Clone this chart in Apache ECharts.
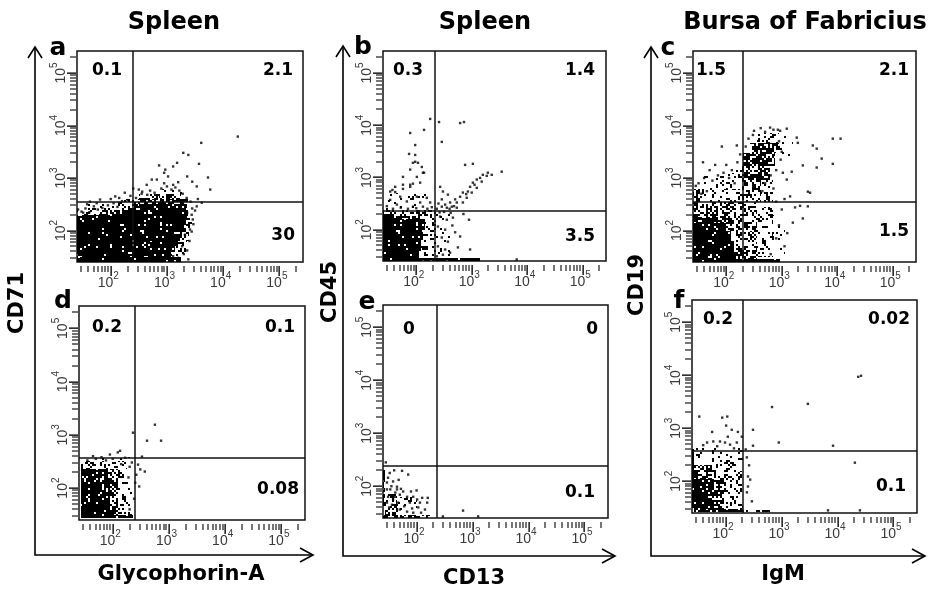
<!DOCTYPE html>
<html><head><meta charset="utf-8">
<script src="https://cdn.jsdelivr.net/npm/echarts@6/dist/echarts.min.js"></script>
<style>html,body{margin:0;padding:0;background:#fff}#c{width:931px;height:590px}</style>
</head><body><div id="c"></div><script>
// ---------------- DATA (log10 units) ----------------
const columnTitles = ['Spleen', 'Spleen', 'Bursa of Fabricius'];
const panelLetters = ['a', 'b', 'c', 'd', 'e', 'f'];
const yTitles = ['CD71', 'CD45', 'CD19'];
const xTitles = ['Glycophorin-A', 'CD13', 'IgM'];
const axisRange = [1.4, 5.42];          // log10 of 25 .. 2.6e5
const majorTicks = [2, 3, 4, 5];        // 10^2 .. 10^5
const minorSteps = [2, 3, 4, 5, 6, 7, 8, 9];

// gates [x, y] in log10 units
const gateA = [2.40, 2.54], gateB = [2.34, 2.37], gateC = [2.30, 2.55];
const gateD = [2.40, 2.57], gateE = [2.36, 2.39], gateF = [2.31, 2.58];
// quadrant percentages: [top-left, top-right, bottom-right]
const quadA = ['0.1', '2.1', '30'];
const quadB = ['0.3', '1.4', '3.5'];
const quadC = ['1.5', '2.1', '1.5'];
const quadD = ['0.2', '0.1', '0.08'];
const quadE = ['0', '0', '0.1'];
const quadF = ['0.2', '0.02', '0.1'];

// event density regions: [x0, x1, y0, y1, density]
const cellsA = [
 [1.40,3.25,1.40,1.50,0.95],[1.40,3.08,1.50,1.60,0.93],[1.40,3.14,1.60,1.70,0.93],[1.40,3.20,1.70,1.80,0.94],
 [1.40,3.24,1.80,1.90,0.95],[1.40,3.27,1.90,2.00,0.95],[1.40,3.30,2.00,2.10,0.95],[1.40,3.33,2.10,2.20,0.95],
 [1.40,1.75,2.20,2.30,0.75],[1.75,3.36,2.20,2.30,0.95],
 [1.40,1.80,2.30,2.40,0.25],[1.80,2.20,2.30,2.40,0.55],[2.20,3.38,2.30,2.40,0.93],
 [1.60,2.20,2.40,2.50,0.18],[2.20,2.50,2.40,2.50,0.6],[2.50,3.36,2.40,2.50,0.9],
 [2.10,2.60,2.50,2.60,0.3],[2.60,3.30,2.50,2.60,0.8],
 [2.50,2.85,2.60,2.70,0.22],[2.85,3.25,2.60,2.70,0.5],
 [3.08,3.30,1.50,1.60,0.3],[3.14,3.36,1.60,1.80,0.3],[3.24,3.40,1.80,2.00,0.3],[3.30,3.44,2.00,2.30,0.3],
 [3.30,3.42,2.50,2.60,0.3],[2.80,3.30,2.70,2.80,0.14]
];
const dotsA = [
 [4.26,3.79],[3.61,3.67],[3.29,3.48],[3.38,3.44],[3.18,3.29],[3.57,3.27],[3.11,3.22],[2.86,3.24],[2.97,3.16],[2.95,3.10],
 [3.02,3.03],[2.73,2.97],[2.82,2.97],[3.36,3.03],[3.45,2.93],[3.73,3.01],[3.77,2.78],[3.53,2.84],[3.11,2.87],[2.64,2.87],
 [2.56,2.74],[2.25,2.72],[2.40,2.80],[2.08,2.65],[1.81,2.59],[1.63,2.55],[1.77,2.40],[1.51,2.34],[3.62,2.53],[3.53,2.46],
 [3.36,2.34],[3.46,2.21],[3.41,2.02],[3.32,1.92],[3.27,1.70],[3.38,1.45],[3.11,1.51],
 [1.48,2.36],[1.55,2.42],[1.62,2.35],[1.70,2.46],[1.85,2.43],[1.95,2.48],[2.05,2.52],[2.12,2.45],[2.20,2.56],[2.30,2.58],
 [1.90,2.38],[2.00,2.60],[2.15,2.62],[2.35,2.66],[2.45,2.62],[2.55,2.70],[2.65,2.68],[2.70,2.76],[2.78,2.72],[2.90,2.80],
 [3.00,2.84],[3.08,2.78],[3.15,2.82],[3.22,2.76],[3.28,2.70],[3.35,2.62],[3.42,2.55],[3.45,2.42],[3.44,2.30],[3.47,2.12],
 [3.44,1.98],[3.40,1.80],[3.36,1.62],[3.30,1.55],[3.20,1.48],[3.50,2.38],[3.55,2.60],[2.95,2.90],[3.20,2.92],[2.50,2.78],
 [1.42,2.40],[1.58,2.50],[1.75,2.52]
];
const cellsB = [
 [1.40,3.15,1.40,1.455,0.95],[1.40,2.05,1.455,1.60,0.96],[1.40,2.08,1.60,1.80,0.96],[1.40,2.12,1.80,2.00,0.96],
 [1.40,2.15,2.00,2.20,0.95],[1.40,2.10,2.20,2.27,0.8],[1.40,2.40,2.27,2.37,0.45],
 [2.05,2.35,1.455,2.27,0.3],[2.35,2.60,1.50,2.30,0.1],[1.45,2.30,2.37,2.70,0.08]
];
const dotsB = [
 [2.25,4.12],[2.14,3.91],[1.89,3.85],[1.98,3.62],[1.87,3.45],[1.98,3.43],[2.03,3.28],[1.94,3.28],[2.14,3.09],[2.01,3.01],
 [2.07,2.90],[1.62,2.82],[1.76,2.86],[1.89,2.86],[1.53,2.73],[1.57,2.76],[1.62,2.72],[1.76,2.78],[1.89,2.82],[1.94,2.88],
 [1.71,2.63],[1.53,2.57],[1.83,2.54],[2.01,2.63],[2.07,2.52],[2.19,2.61],[2.25,2.52],[1.65,2.48],[1.94,2.44],[2.12,2.44],
 [1.76,3.01],[1.89,3.15],[2.12,3.09],[2.10,3.20],[1.98,3.30],[1.47,2.45],[1.58,2.40],[1.72,2.42],[1.85,2.40],[2.00,2.41],
 [2.28,2.43],[2.20,2.40],
 [2.41,4.06],[2.46,3.68],[2.79,4.04],[2.86,4.06],[3.02,3.26],[3.54,3.11],[2.88,3.24],[2.43,2.82],[2.48,2.73],[2.57,2.67],
 [2.46,2.58],[2.61,2.52],[2.70,2.58],[2.79,2.63],[2.84,2.71],[2.93,2.73],[2.97,2.82],[3.02,2.90],[3.09,2.96],[3.15,2.99],
 [3.20,3.05],[3.27,3.03],[3.29,3.09],[3.36,3.05],[3.18,2.92],[3.09,2.80],[3.00,2.71],[2.91,2.61],[2.73,2.52],[2.64,2.44],
 [2.55,2.42],[2.37,2.40],[2.46,2.44],[2.73,2.42],[2.84,2.52],[2.40,2.50],[2.52,2.48],[2.60,2.40],[2.68,2.45],[2.90,2.68],
 [3.05,2.86],
 [2.43,2.25],[2.55,2.19],[2.66,2.23],[2.39,2.06],[2.52,2.00],[2.46,1.85],[2.57,1.77],[2.39,1.68],[2.52,1.62],[2.79,1.87],
 [2.75,1.66],[2.61,1.56],[2.97,1.62],[3.81,1.43],[2.37,1.49],[2.95,2.19],[2.65,2.08],[2.70,1.95],[2.48,1.52],[2.85,2.30],
 [2.62,2.32],[2.50,2.34],[2.42,2.33]
];
const cellsC = [
 [1.40,2.97,1.40,1.46,0.95],[1.40,2.18,1.46,1.60,0.95],[1.40,2.14,1.60,1.80,0.95],[1.40,2.08,1.80,2.00,0.95],
 [1.40,2.00,2.00,2.15,0.93],[1.40,1.85,2.15,2.25,0.85],[1.85,2.10,2.00,2.30,0.55],[1.40,1.85,2.25,2.55,0.5],
 [2.10,2.30,2.00,2.55,0.4],[1.85,2.10,2.30,2.55,0.45],[1.40,2.30,2.55,2.80,0.28],[1.60,2.28,2.80,3.10,0.14],
 [2.18,2.55,1.46,2.00,0.45],[2.30,2.55,2.00,2.55,0.4],[2.55,2.85,1.50,2.45,0.2],[2.85,3.05,1.50,2.30,0.07],
 [2.55,2.95,3.67,3.85,0.3],[2.42,2.95,3.48,3.67,0.65],[2.30,2.88,3.22,3.48,0.75],[2.28,2.78,2.97,3.22,0.65],
 [2.28,2.62,2.55,2.97,0.45],[2.62,2.85,2.55,2.97,0.2],[2.95,3.20,3.20,3.80,0.1],[1.90,2.28,2.80,3.20,0.12]
];
const dotsC = [
 [3.92,3.75],[4.06,3.75],[3.56,3.62],[3.63,3.56],[3.72,3.37],[3.63,3.20],[3.38,3.24],[3.92,3.27],[3.27,3.77],[3.29,3.67],
 [3.09,3.94],[2.97,3.90],[3.47,2.74],[3.51,2.72],[3.33,2.47],[3.47,2.46],[3.38,2.23],[3.24,2.44],[3.15,2.65],[3.18,3.12],
 [3.02,3.10],[3.09,2.97],[1.92,3.60],[2.19,3.62],[2.48,3.82],[2.79,3.96],[2.93,3.92],
 [1.50,2.90],[1.60,3.00],[1.75,2.95],[1.85,3.05],[1.95,3.10],[2.05,3.00],[2.10,3.15],[2.15,2.90],[1.65,2.75],[1.55,2.70],
 [1.45,2.85],[1.70,3.15],[2.00,3.25],[2.20,3.30],[2.25,3.45],[2.35,3.60],[2.40,3.75],[2.50,3.90],[2.62,3.95],[2.70,3.88],
 [2.85,3.92],[2.95,3.70],[3.00,3.50],[2.98,3.35],[2.90,3.15],[2.80,3.05],[2.70,2.90],[2.65,2.75],[2.90,2.55],[3.00,2.40],
 [2.95,2.10],[2.90,1.85],[3.05,1.70],[2.80,1.55],[3.10,1.95],[3.20,2.15],[2.75,2.60],[2.85,2.80],[3.05,2.60],[1.58,3.30],
 [1.80,3.25]
];
const cellsD = [
 [1.44,1.47,1.49,2.45,0.95],[1.44,2.36,1.44,1.49,0.85],[1.47,1.95,1.49,2.15,0.9],[1.95,2.10,1.49,2.15,0.6],
 [1.47,2.00,2.15,2.35,0.72],[2.00,2.20,2.15,2.35,0.35],[2.10,2.35,1.50,2.15,0.18],[1.50,2.25,2.35,2.50,0.28],
 [1.60,2.35,2.50,2.58,0.1]
];
const dotsD = [
 [2.09,2.67],[1.95,2.63],[2.13,2.70],[2.22,2.57],[2.34,2.48],[2.45,2.44],[2.49,2.35],[2.57,2.31],[2.47,2.03],[2.52,2.59],
 [2.75,3.19],[2.61,2.89],[2.86,2.89],[2.36,3.04],[1.80,2.58],[1.70,2.55],[2.00,2.55],[2.30,2.40],[2.28,2.20],[2.40,2.10],
 [2.38,1.80],[2.30,1.60],[1.55,2.52],[1.65,2.60],[1.88,2.52],[2.15,2.45],[2.42,2.25]
];
const cellsE = [
 [1.40,1.43,1.60,2.30,0.7],[1.40,2.30,1.40,1.45,0.6],[1.43,1.65,1.45,1.85,0.4],[1.65,2.00,1.45,1.80,0.13]
];
const dotsE = [
 [1.74,2.29],[1.85,2.22],[1.49,2.16],[1.58,2.09],[1.47,2.07],[1.65,1.99],[1.76,1.90],[1.70,1.84],[1.83,1.80],[1.94,1.80],
 [2.01,1.75],[2.06,1.69],[1.88,1.69],[2.03,1.60],[2.15,1.56],[2.19,1.69],[2.20,1.78],[2.10,1.78],[1.53,1.94],[1.61,1.80],
 [1.67,1.69],[1.56,1.65],[1.70,1.56],[1.83,1.52],[1.94,1.50],[2.83,1.54],[3.10,1.43],[2.47,1.43],[1.49,1.80],[1.47,1.69],
 [1.51,1.60],[1.58,1.75],[1.65,1.94],[1.47,1.94],[1.55,2.00],[1.62,1.88],[1.72,1.95],[1.90,1.90],[2.00,1.92],[1.78,1.62],
 [1.92,1.58],[2.08,1.50],[1.52,2.25],[1.60,2.30],[1.45,2.45],[1.68,2.12]
];
const cellsF = [
 [1.40,1.43,1.45,2.60,0.85],[1.40,2.31,1.42,1.47,0.75],[2.31,2.80,1.42,1.46,0.45],[1.43,1.80,1.47,2.05,0.88],
 [1.43,1.75,2.05,2.30,0.65],[1.80,2.05,1.47,2.10,0.5],[2.05,2.31,1.47,2.20,0.2],[1.75,2.25,2.10,2.40,0.28],
 [1.45,2.31,2.40,2.62,0.16]
];
const dotsF = [
 [1.53,3.22],[2.03,3.22],[2.01,3.05],[2.11,2.97],[2.22,2.93],[2.49,2.97],[2.49,2.67],[2.83,3.40],[3.47,3.46],[2.95,2.73],
 [3.92,2.67],[4.37,3.97],[4.42,3.99],[4.31,2.35],[2.44,2.03],[2.40,1.90],[2.38,1.79],[2.47,1.62],[3.83,1.45],[4.40,1.45],
 [2.40,2.09],[1.67,2.73],[1.78,2.75],[1.90,2.75],[1.99,2.73],[2.08,2.69],[2.20,2.73],[2.29,2.84],[2.04,2.84],[1.76,2.93],
 [1.94,3.20],[2.36,2.60],[2.38,2.45],[2.42,2.30],[1.60,2.68],[1.85,2.66],[2.15,2.62]
];

// ---------------- LAYOUT ----------------
const panels = [
 {cells: cellsA, dots: dotsA, gate: gateA, quad: quadA},
 {cells: cellsB, dots: dotsB, gate: gateB, quad: quadB},
 {cells: cellsC, dots: dotsC, gate: gateC, quad: quadC},
 {cells: cellsD, dots: dotsD, gate: gateD, quad: quadD},
 {cells: cellsE, dots: dotsE, gate: gateE, quad: quadE},
 {cells: cellsF, dots: dotsF, gate: gateF, quad: quadF}
];
const layout = [
 {grid: {left: 77, top: 51, width: 226, height: 211}, letter: [58, 48], quad: [[92, 71, 'left'], [293, 71, 'right'], [295, 236, 'right']]},
 {grid: {left: 383, top: 51, width: 223, height: 210}, letter: [363, 47], quad: [[393, 71, 'left'], [595, 71, 'right'], [595, 237, 'right']]},
 {grid: {left: 693, top: 51, width: 223, height: 211}, letter: [668, 48], quad: [[696, 71, 'left'], [909, 71, 'right'], [909, 232, 'right']]},
 {grid: {left: 79, top: 306, width: 226, height: 214}, letter: [63, 301], quad: [[92, 328, 'left'], [295, 328, 'right'], [299, 490, 'right']]},
 {grid: {left: 383, top: 305, width: 225, height: 213}, letter: [367, 302], quad: [[403, 330, 'left'], [598, 330, 'right'], [595, 493, 'right']]},
 {grid: {left: 692, top: 300, width: 225, height: 213}, letter: [679, 301], quad: [[703, 320, 'left'], [910, 320, 'right'], [906, 487, 'right']]}
];
const columnTitlePos = [[174, 23], [485, 23], [805, 23]];
const yTitlePos = [[18, 303], [331, 292], [638, 285]];
const xTitlePos = [[181, 575], [474, 579], [783, 575]];
const arrowFrames = [ // [vertical x, top y, horizontal y, right x]
 [35, 47, 555, 313], [343, 46, 556, 615], [651, 47, 556, 925]
];

// ---------------- BUILD ----------------
const minorTickValues = [];
[1, 2, 3, 4, 5].forEach(n => minorSteps.forEach(k => {
  const v = n + Math.log(k) / Math.LN10;
  if (v > axisRange[0] && v < axisRange[1]) minorTickValues.push(v);
}));
const tickMarks = majorTicks.map(v => [v, 1]).concat(minorTickValues.map(v => [v, 0]));

// speckle fill texture (deterministic hash dither) for event-density regions
function hashCell(x, y) {
  let h = Math.imul(x, 374761393) + Math.imul(y, 668265263) | 0;
  h = Math.imul(h ^ (h >>> 13), 1274126177);
  h = h ^ (h >>> 16);
  return ((h >>> 0) % 1000) / 1000;
}
const patternCache = {};
function speckle(d) {
  const key = d.toFixed(3);
  if (patternCache[key]) return patternCache[key];
  const size = 128, cell = 2;
  const cv = document.createElement('canvas');
  cv.width = cv.height = size;
  const ctx = cv.getContext('2d');
  ctx.fillStyle = '#000';
  for (let y = 0; y < size / cell; y++) for (let x = 0; x < size / cell; x++) {
    if (hashCell(x, y) < d) ctx.fillRect(x * cell, y * cell, cell, cell);
  }
  return (patternCache[key] = {image: cv, repeat: 'repeat'});
}

const tickColor = '#1a1a1a';
const labelRich = {
  b: {fontSize: 14, fontFamily: '"Liberation Sans", Arial, sans-serif', color: '#3a3a3a', lineHeight: 19, verticalAlign: 'bottom'},
  s: {fontSize: 10, fontFamily: '"Liberation Sans", Arial, sans-serif', color: '#3a3a3a', lineHeight: 10, verticalAlign: 'top'}
};
const fmt = v => '{b|10}{s|' + Math.round(v) + '}';

// linear map of an axis value onto a grid edge (value axes are linear in log10 units)
function gx(g, v) { return g.left + (v - axisRange[0]) / (axisRange[1] - axisRange[0]) * g.width; }
function gy(g, v) { return g.top + g.height - (v - axisRange[0]) / (axisRange[1] - axisRange[0]) * g.height; }

const grids = [], xAxes = [], yAxes = [], series = [], graphics = [];
panels.forEach((p, i) => {
  const L = layout[i];
  grids.push(Object.assign({show: true, borderColor: '#111', borderWidth: 1.5, backgroundColor: 'rgba(0,0,0,0)', containLabel: false, outerBoundsMode: 'none'}, L.grid));
  xAxes.push({type: 'value', gridIndex: i, min: axisRange[0], max: axisRange[1], position: 'bottom', offset: 4,
    splitLine: {show: false}, axisLine: {show: false, onZero: false}, axisTick: {show: false},
    axisLabel: {show: true, customValues: majorTicks, formatter: fmt, rich: labelRich, margin: 5, padding: [0, 5, 0, 0]}});
  yAxes.push({type: 'value', gridIndex: i, min: axisRange[0], max: axisRange[1], position: 'left', offset: 0,
    splitLine: {show: false}, axisLine: {show: false, onZero: false}, axisTick: {show: false},
    axisLabel: {show: true, customValues: majorTicks, formatter: fmt, rich: labelRich, rotate: 90, margin: 9}});
  series.push({
    type: 'custom', xAxisIndex: i, yAxisIndex: i, data: p.cells, encode: {x: [0, 1], y: [2, 3]},
    silent: true, animation: false, z: 2,
    renderItem: (params, api) => {
      const a = api.coord([api.value(0), api.value(2)]);
      const b = api.coord([api.value(1), api.value(3)]);
      const x0 = Math.round(a[0]), x1 = Math.round(b[0]), y0 = Math.round(a[1]), y1 = Math.round(b[1]);
      return {type: 'rect', shape: {x: x0, y: y1, width: x1 - x0, height: y0 - y1},
        style: {fill: speckle(api.value(4))}};
    }
  });
  series.push({
    type: 'scatter', xAxisIndex: i, yAxisIndex: i, data: p.dots, symbol: 'rect', symbolSize: 2.4,
    itemStyle: {color: '#000'}, silent: true, animation: false, z: 3,
    markLine: {silent: true, symbol: 'none', animation: false, label: {show: false},
      lineStyle: {color: '#111', width: 1.5, type: 'solid'},
      emphasis: {disabled: true},
      data: [{xAxis: p.gate[0]}, {yAxis: p.gate[1]}]}
  });
  // tick marks (thin filled bars) on the bottom and left edges
  const g = L.grid;
  tickMarks.forEach(t => {
    const v = t[0], major = t[1] === 1;
    const px = Math.round(gx(g, v)), py = Math.round(gy(g, v));
    const xl = major ? 10 : 6, yl = major ? 9 : 6;
    graphics.push({type: 'rect', silent: true, z: 50,
      shape: {x: px - 0.6, y: g.top + g.height + 4, width: major ? 1.5 : 1.2, height: xl}, style: {fill: tickColor}});
    graphics.push({type: 'rect', silent: true, z: 50,
      shape: {x: g.left - 1 - yl, y: py - 0.6, width: yl, height: major ? 1.5 : 1.2}, style: {fill: tickColor}});
  });
  graphics.push({type: 'text', x: L.letter[0], y: L.letter[1], z: 10,
    style: {text: panelLetters[i], font: 'bold 25px "DejaVu Sans"', fill: '#000', align: 'center', verticalAlign: 'middle'}});
  p.quad.forEach((t, q) => {
    const pos = L.quad[q];
    graphics.push({type: 'text', x: pos[0], y: pos[1], z: 10,
      style: {text: t, font: 'bold 17px "DejaVu Sans"', fill: '#000', align: pos[2], verticalAlign: 'middle'}});
  });
});
columnTitles.forEach((t, i) => {
  graphics.push({type: 'text', x: columnTitlePos[i][0], y: columnTitlePos[i][1],
    style: {text: t, font: 'bold 24px "DejaVu Sans"', fill: '#000', align: 'center', verticalAlign: 'middle'}});
  graphics.push({type: 'text', x: yTitlePos[i][0], y: yTitlePos[i][1], rotation: Math.PI / 2,
    style: {text: yTitles[i], font: 'bold 21px "DejaVu Sans"', fill: '#000', align: 'center', verticalAlign: 'middle'}});
  graphics.push({type: 'text', x: xTitlePos[i][0], y: xTitlePos[i][1],
    style: {text: xTitles[i], font: 'bold 21px "DejaVu Sans"', fill: '#000', align: 'center', verticalAlign: 'middle'}});
  const f = arrowFrames[i];
  const ls = {stroke: '#000', lineWidth: 1.6, fill: null};
  graphics.push({type: 'polyline', shape: {points: [[f[0], f[1]], [f[0], f[2]], [f[3], f[2]]]}, style: ls});
  graphics.push({type: 'polyline', shape: {points: [[f[0] - 7, f[1] + 11], [f[0], f[1]], [f[0] + 7, f[1] + 11]]}, style: ls});
  graphics.push({type: 'polyline', shape: {points: [[f[3] - 13, f[2] - 7], [f[3], f[2]], [f[3] - 13, f[2] + 7]]}, style: ls});
});

const chart = echarts.init(document.getElementById('c'), null, {renderer: 'canvas'});
chart.setOption({
  backgroundColor: '#fff',
  animation: false,
  grid: grids, xAxis: xAxes, yAxis: yAxes, series: series, graphic: {elements: graphics}
});
</script></body></html>
